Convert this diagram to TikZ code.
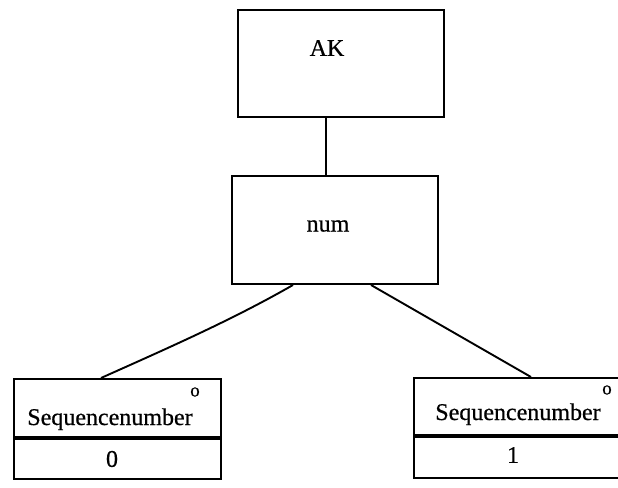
\documentclass[tikz,border=0pt]{standalone}
\usepackage{fontspec}
\setmainfont{Liberation Serif}[FakeBold=0.6]
\begin{document}
\begin{tikzpicture}[x=1pt,y=-1pt,
  box/.style={draw, line width=2pt, inner sep=0pt, anchor=north west},
  wire/.style={line width=1.9pt},
  lbl/.style={font=\fontsize{24}{28}\selectfont, inner sep=0pt},
  tiny/.style={font=\fontsize{19}{21}\selectfont, inner sep=0pt}]
\useasboundingbox (0,0) rectangle (618,487);
\clip (0,0) rectangle (618,487);

% upper boxes
\node[box, minimum width=206pt, minimum height=107pt] (ak) at (237,9) {};
\node[lbl] (aktext) at (327,48) {AK};
\node[box, minimum width=206pt, minimum height=108pt] (num) at (231,175) {};
\node[lbl] (numtext) at (328,226) {num};

% left record
\node[box, minimum width=207pt, minimum height=58pt] (seqL) at (13,378) {};
\node[box, minimum width=207pt, minimum height=40pt] (valL) at (seqL.south west) {};
\node[lbl, anchor=base] (seqLtext) at (110,425) {Sequencenumber};
\node[tiny] (supL) at (195,392) {o};
\node[lbl] (digL) at (112,459) {0};

% right record
\node[box, minimum width=209pt, minimum height=57pt] (seqR) at (413,377) {};
\node[box, minimum width=209pt, minimum height=41pt] (valR) at (seqR.south west) {};
\node[lbl, anchor=base] (seqRtext) at (518,420) {Sequencenumber};
\node[tiny] (supR) at (607,390) {o};
\node[lbl] (digR) at (513,455) {1};

% connectors
\draw[wire] ([xshift=-15pt]ak.south) -- ([xshift=-15pt]ak.south |- num.north);
\draw[wire] ([xshift=-42pt]num.south) .. controls (232,320) and (168,348) .. ([xshift=-16.5pt]seqL.north);
\draw[wire] ([xshift=36pt]num.south) -- ([xshift=12.5pt]seqR.north);
\end{tikzpicture}
\end{document}
